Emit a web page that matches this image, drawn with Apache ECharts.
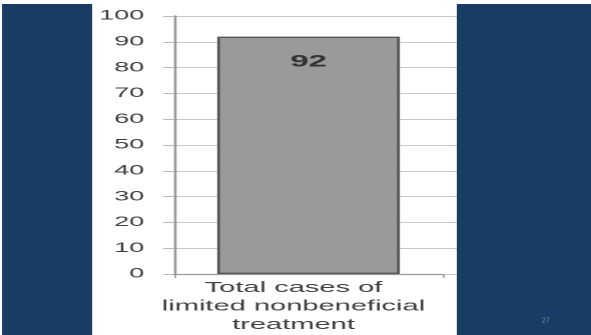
<!DOCTYPE html>
<html>
<head>
<meta charset="utf-8">
<script src="https://cdn.jsdelivr.net/npm/echarts@6/dist/echarts.min.js"></script>
<style>
  html, body { margin: 0; padding: 0; background: #ffffff; overflow: hidden; }
  /* the slide is laid out at half width and widened 2x, giving the broad lettering */
  #wrap { position: absolute; left: 0; top: 0; width: 591px; height: 335px; }
  #chart { position: absolute; left: 0; top: 0; width: 295.5px; height: 335px;
           transform: scaleX(2); transform-origin: 0 0; }
</style>
</head>
<body>
<div id="wrap"><div id="chart"></div></div>
<script>
// Data
const categories = ['Total cases of\nlimited nonbeneficial\ntreatment'];
const caseCounts = [92];
const yTicks = { min: 0, max: 100, step: 10 };
const slideNumber = '27';

const SX = 2;            // horizontal widening applied by CSS
const W = 591 / SX;      // chart width in its own units
const H = 335;
const navy = '#183c64';
const font = 'Liberation Sans, Arial, sans-serif';

const chart = echarts.init(document.getElementById('chart'), null,
  { width: W, height: H, devicePixelRatio: 2 });

chart.setOption({
  animation: false,
  backgroundColor: '#ffffff',
  grid: [
    { left: 87, right: W - 221, top: 16, bottom: 61 },
    // gridlines keep running past the axis toward the right panel
    { left: 221, right: W - 232, top: 16, bottom: 61 }
  ],
  xAxis: [
    {
      type: 'category',
      gridIndex: 0,
      data: categories,
      axisLine: { show: true, lineStyle: { color: '#9a9a9a', width: 1.2 } },
      axisTick: { show: true, alignWithLabel: false, length: 4,
                  lineStyle: { color: '#9a9a9a', width: 0.8 } },
      axisLabel: { color: '#3e3e3e', fontFamily: font, fontSize: 14.5, lineHeight: 18.3,
                   margin: 5, padding: [0, 15, 0, 0], interval: 0 }
    },
    { type: 'value', gridIndex: 1, show: false, min: 0, max: 1 }
  ],
  yAxis: [
    {
      type: 'value',
      gridIndex: 0,
      min: yTicks.min, max: yTicks.max, interval: yTicks.step,
      axisLine: { show: true, lineStyle: { color: '#9a9a9a', width: 1.3 } },
      axisTick: { show: true, length: 5.5, lineStyle: { color: '#a8a8a8', width: 0.8 } },
      axisLabel: { color: '#3e3e3e', fontFamily: font, fontSize: 13.5, margin: 15 },
      splitLine: { show: true, lineStyle: { color: '#c9c9c9', width: 1 } }
    },
    {
      type: 'value',
      gridIndex: 1,
      min: yTicks.min, max: yTicks.max, interval: yTicks.step,
      axisLine: { show: false }, axisTick: { show: false }, axisLabel: { show: false },
      splitLine: { show: true, lineStyle: { color: '#c9c9c9', width: 1 } }
    }
  ],
  series: [{
    type: 'bar',
    xAxisIndex: 0,
    yAxisIndex: 0,
    data: caseCounts,
    barWidth: '68%',
    itemStyle: { color: '#9a9a9a', borderColor: '#555555', borderWidth: 1.4 },
    label: {
      show: true, position: 'insideTop', distance: 17,
      color: '#333', fontFamily: font, fontWeight: 'bold', fontSize: 16.5
    }
  }],
  graphic: [
    { type: 'rect', z: 100, shape: { x: 1, y: 4, width: 45, height: H - 4 },
      style: { fill: navy } },
    { type: 'rect', z: 100, shape: { x: 228, y: 4, width: W - 228, height: H - 4 },
      style: { fill: navy } },
    { type: 'text', z: 101, x: 270.5, y: 317, scaleX: 0.5,
      style: { text: slideNumber, fill: '#7d8ea5', fontSize: 7, fontFamily: font } }
  ]
});
</script>
</body>
</html>
